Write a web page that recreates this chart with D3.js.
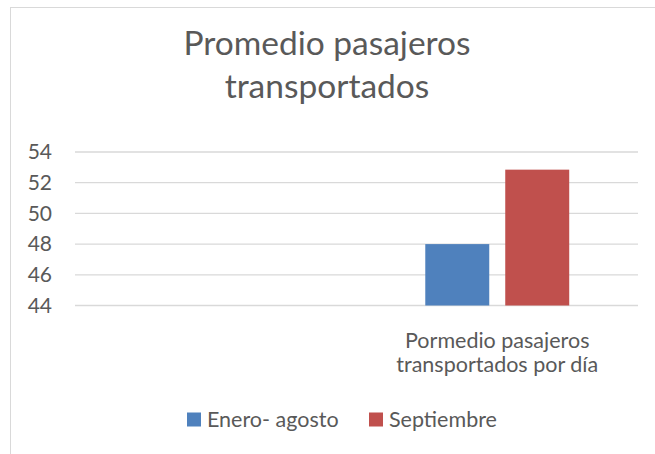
<!DOCTYPE html>
<html>
<head>
<meta charset="utf-8">
<script src="https://cdn.jsdelivr.net/npm/d3@7"></script>
<style>
  body { margin: 0; background: #fff; }
  text { font-family: Lato, "Open Sans", sans-serif; fill: #595959; }
</style>
</head>
<body>
<svg id="chart"></svg>
<script>
// data
var categories = ["", "Pormedio pasajeros transportados por día"];
var series = ["Enero- agosto", "Septiembre"];
var enero_agosto = [null, 48.0];
var septiembre = [null, 52.85];
var yTicks = [44, 46, 48, 50, 52, 54];
var colors = ["#4f81bd", "#c0504d"];

var width = 655, height = 454;
var svg = d3.select("#chart").attr("width", width).attr("height", height);

// chart area border
svg.append("rect")
  .attr("x", 10.5).attr("y", 7.5)
  .attr("width", 700).attr("height", 500)
  .attr("fill", "none").attr("stroke", "#d9d9d9");

// TITLE
var title = svg.append("text").attr("text-anchor", "middle").style("font-size", "33.5px");
title.append("tspan").attr("x", 327).attr("y", 55).text("Promedio pasajeros");
title.append("tspan").attr("x", 327).attr("y", 98).text("transportados");

var plotLeft = 75, plotRight = 638, plotTop = 152, plotBottom = 305.5;

var y = d3.scaleLinear().domain([44, 54]).range([plotBottom, plotTop]);
var x = d3.scaleBand().domain(categories).range([plotLeft, plotRight]);
var xs = d3.scaleBand().domain(series).range([0, x.bandwidth()]).paddingInner(0.2).paddingOuter(0.86);

// gridlines
svg.selectAll(".grid")
  .data(yTicks)
  .enter()
  .append("line")
  .attr("x1", plotLeft).attr("x2", plotRight)
  .attr("y1", function(d){ return y(d); })
  .attr("y2", function(d){ return y(d); })
  .attr("stroke", "#d9d9d9").attr("stroke-width", 1.3);

// y axis labels
var yAxis = d3.axisLeft(y).tickValues(yTicks).tickSize(0).tickPadding(23);
var gy = svg.append("g").attr("transform", "translate(" + plotLeft + ",0)").call(yAxis);
gy.select(".domain").remove();
gy.selectAll("text").style("font-size", "21px").attr("fill", "#595959").style("font-family", "Lato, 'Open Sans', sans-serif");

// bars
var values = [enero_agosto, septiembre];
series.forEach(function(s, si){
  svg.selectAll(".bar" + si)
    .data(categories.map(function(c, i){ return {c: c, v: values[si][i]}; }).filter(function(d){ return d.v != null; }))
    .enter()
    .append("rect")
    .attr("x", function(d){ return x(d.c) + xs(s); })
    .attr("width", xs.bandwidth())
    .attr("y", function(d){ return y(d.v); })
    .attr("height", function(d){ return y(44) - y(d.v); })
    .attr("fill", colors[si]);
});

// category label (two lines)
var cat = categories[1];
var cx = x(cat) + x.bandwidth() / 2;
var cl = svg.append("text").attr("text-anchor", "middle").style("font-size", "21.5px");
cl.append("tspan").attr("x", cx).attr("y", 348).text("Pormedio pasajeros");
cl.append("tspan").attr("x", cx).attr("y", 372).text("transportados por día");

// LEGEND
var legX = [187, 369];
series.forEach(function(s, i){
  svg.append("rect").attr("x", legX[i]).attr("y", 412.5).attr("width", 14).attr("height", 14).attr("fill", colors[i]);
  svg.append("text").attr("x", legX[i] + 20).attr("y", 426.5).style("font-size", "21.5px").text(s);
});
</script>
</body>
</html>
